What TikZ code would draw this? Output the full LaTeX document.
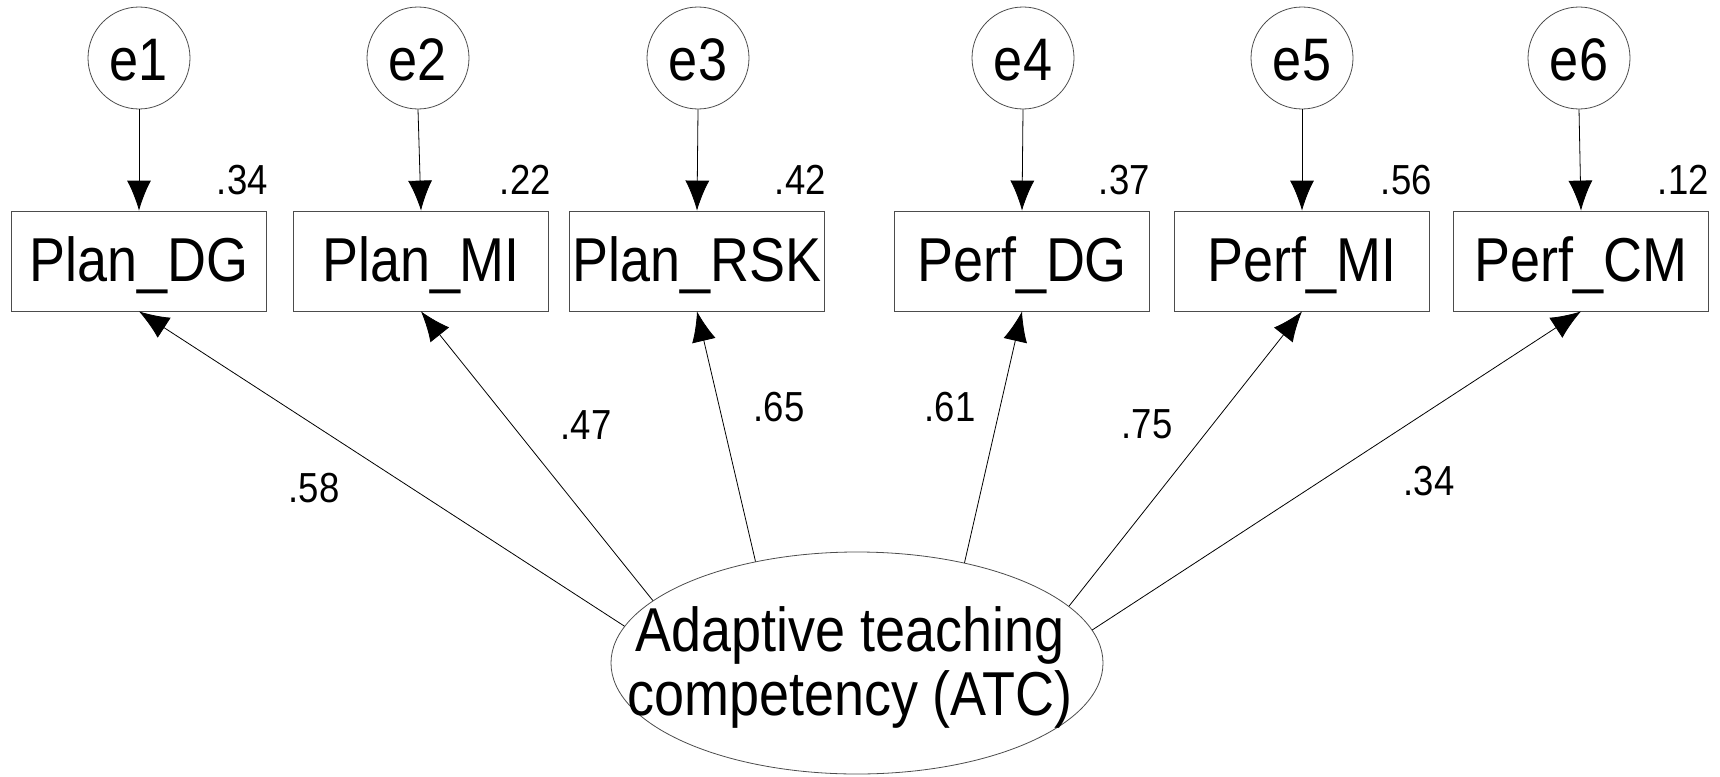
\documentclass[tikz,border=0pt]{standalone}
\usepackage{fontspec}
\setmainfont{Liberation Sans}
\newfontfamily\narrowsans{Liberation Sans}[FakeStretch=0.87]
\usetikzlibrary{arrows.meta,shapes.geometric,calc}
\begin{document}
\begin{tikzpicture}[x=1pt,y=-1pt,
  obs/.style={draw=black!70, line width=0.8pt, rectangle, minimum width=255pt,
    minimum height=100pt, inner sep=0pt, font=\narrowsans\fontsize{62}{63}\selectfont,
    text height=40pt, text depth=0pt},
  err/.style={draw=black!70, line width=0.8pt, circle, minimum size=102pt,
    inner sep=0pt, font=\narrowsans\fontsize{60}{62}\selectfont, text height=44pt, text depth=0pt},
  lat/.style={draw=black!70, line width=0.8pt, ellipse, minimum width=492pt,
    minimum height=222pt, inner sep=0pt},
  coef/.style={font=\narrowsans\fontsize{42}{44}\selectfont, inner sep=0pt},
  load/.style={line width=0.8pt, -{Latex[length=30pt,width=24pt]}},
]
\useasboundingbox (0,0) rectangle (1720,776);

% error terms
\node[err] (e1) at (139,58) {e1};
\node[err] (e2) at (418,58) {e2};
\node[err] (e3) at (698,58) {e3};
\node[err] (e4) at (1023,58) {e4};
\node[err] (e5) at (1302,58) {e5};
\node[err] (e6) at (1579,58) {e6};

% observed indicators
\node[obs] (pdg) at (139,261) {Plan\_DG};
\node[obs] (pmi) at (421,261) {Plan\_MI};
\node[obs] (prsk) at (697,261) {Plan\_RSK};
\node[obs] (fdg) at (1022,261) {Perf\_DG};
\node[obs] (fmi) at (1302,261) {Perf\_MI};
\node[obs] (fcm) at (1581,261) {Perf\_CM};

% latent factor
\node[lat] (atc) at (857,663) {};
\node[font=\narrowsans\fontsize{62}{64}\selectfont, align=center, inner sep=0pt] (atct)
  at (850,667) {Adaptive teaching\\competency (ATC)};

% squared multiple correlations
\node[coef, anchor=base east] (r1) at ($(pdg.north east)+(1,-16)$) {.34};
\node[coef, anchor=base east] (r2) at ($(pmi.north east)+(2,-16)$) {.22};
\node[coef, anchor=base east] (r3) at ($(prsk.north east)+(1,-16)$) {.42};
\node[coef, anchor=base east] (r4) at ($(fdg.north east)+(0,-16)$) {.37};
\node[coef, anchor=base east] (r5) at ($(fmi.north east)+(2,-16)$) {.56};
\node[coef, anchor=base east] (r6) at ($(fcm.north east)+(0,-16)$) {.12};

% error paths
\draw[load] (e1.south) -- (pdg.north);
\draw[load] (e2.south) -- (pmi.north);
\draw[load] (e3.south) -- (prsk.north);
\draw[load] (e4.south) -- (fdg.north);
\draw[load] (e5.south) -- (fmi.north);
\draw[load] (e6.south) -- (fcm.north);

% factor loadings
\draw[load] (atc.171.6) -- (pdg.south);
\draw[load] (atc.163.8) -- (pmi.south);
\draw[load] (atc.135.3) -- (prsk.south);
\draw[load] (atc.43.7) -- (fdg.south);
\draw[load] (atc.15.8) -- (fmi.south);
\draw[load] (atc.8.4) -- (fcm.south);

\node[coef] (l1) at (314,488) {.58};
\node[coef] (l2) at (586,425) {.47};
\node[coef] (l3) at (779,407) {.65};
\node[coef] (l4) at (950,407) {.61};
\node[coef] (l5) at (1147,424) {.75};
\node[coef] (l6) at (1429,481) {.34};
\end{tikzpicture}
\end{document}
